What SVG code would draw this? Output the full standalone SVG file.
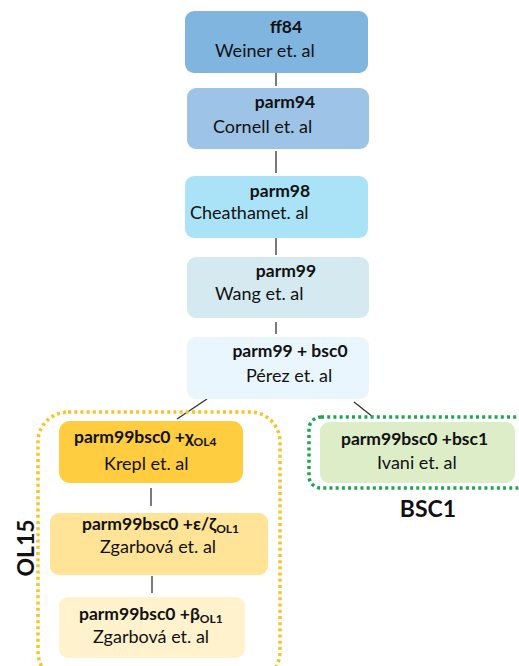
<svg xmlns="http://www.w3.org/2000/svg" width="519" height="666" viewBox="0 0 519 666">
<style>
text{font-family:Lato,"Liberation Sans",sans-serif;font-size:18px;fill:#111}
.b{font-weight:bold;font-size:17.5px}
.s{font-size:12px}
.lab{font-weight:bold;font-size:23px}
.c{stroke:#333;stroke-width:1.3;fill:none}
</style>
<rect width="519" height="666" fill="#fff"/>
<g id="connectors">
<line class="c" x1="276" y1="73" x2="276" y2="86"/>
<line class="c" x1="276" y1="151" x2="276" y2="173"/>
<line class="c" x1="276" y1="238" x2="276" y2="255"/>
<line class="c" x1="276" y1="322" x2="276" y2="334"/>
<line class="c" x1="207" y1="399" x2="177" y2="419"/>
<line class="c" x1="354" y1="402" x2="373" y2="417"/>
<line class="c" x1="151" y1="488" x2="151" y2="506"/>
<line class="c" x1="152" y1="576" x2="152" y2="593"/>
</g>
<g id="group-ol15">
<rect x="38" y="412" width="242" height="270" rx="30" fill="none" stroke="#f7c325" stroke-width="3.5" stroke-dasharray="3 3.2"/>
<text class="lab" transform="translate(34,548) rotate(-90)" text-anchor="middle">OL15</text>
</g>
<g id="group-bsc1">
<rect x="309" y="417" width="220" height="71" rx="12" fill="none" stroke="#1fa553" stroke-width="3.5" stroke-dasharray="3 3.2"/>
<text class="lab" x="428" y="517" text-anchor="middle">BSC1</text>
</g>
<g id="ff84">
<rect x="185" y="11" width="183" height="62" rx="9" fill="#7fb5df"/>
<text class="b" x="286" y="33" text-anchor="middle">ff84</text>
<text x="215" y="57">Weiner et. al</text>
</g>
<g id="parm94">
<rect x="187" y="88" width="182" height="61" rx="9" fill="#9dc3e6"/>
<text class="b" x="285" y="108" text-anchor="middle">parm94</text>
<text x="213" y="133">Cornell et. al</text>
</g>
<g id="parm98">
<rect x="185" y="176" width="183" height="62" rx="9" fill="#aae3f7"/>
<text class="b" x="280" y="197" text-anchor="middle">parm98</text>
<text x="190" y="219">Cheathamet. al</text>
</g>
<g id="parm99">
<rect x="187" y="257" width="182" height="61" rx="9" fill="#d5e9f0"/>
<text class="b" x="286" y="277" text-anchor="middle">parm99</text>
<text x="215" y="300">Wang et. al</text>
</g>
<g id="parm99bsc0">
<rect x="187" y="337" width="182" height="62" rx="9" fill="#eaf6fd"/>
<text class="b" x="290" y="357" text-anchor="middle">parm99 + bsc0</text>
<text x="246" y="382">Pérez et. al</text>
</g>
<g id="ol4">
<rect x="59" y="421" width="184" height="62" rx="11" fill="#ffcd3f"/>
<text class="b" x="74" y="443">parm99bsc0 +χ<tspan class="s" dy="3">OL4</tspan></text>
<text x="104" y="470">Krepl et. al</text>
</g>
<g id="ol1-ez">
<rect x="50" y="513" width="218" height="62" rx="9" fill="#ffe396"/>
<text class="b" x="82" y="530">parm99bsc0 +ε/ζ<tspan class="s" dy="3">OL1</tspan></text>
<text x="100" y="553">Zgarbová et. al</text>
</g>
<g id="ol1-b">
<rect x="59" y="597" width="186" height="61" rx="9" fill="#fff2cc"/>
<text class="b" x="79" y="620">parm99bsc0 +β<tspan class="s" dy="3">OL1</tspan></text>
<text x="93" y="643">Zgarbová et. al</text>
</g>
<g id="bsc1">
<rect x="320" y="422" width="195" height="61" rx="9" fill="#dcedc8"/>
<text class="b" x="341" y="445">parm99bsc0 +bsc1</text>
<text x="377" y="469">Ivani et. al</text>
</g>
</svg>
